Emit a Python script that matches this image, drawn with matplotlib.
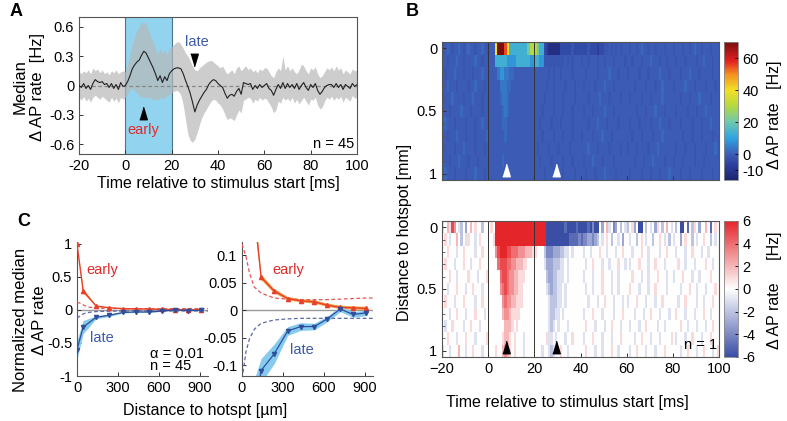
import numpy as np
import matplotlib
matplotlib.use("Agg")
import matplotlib.pyplot as plt
from matplotlib.colors import LinearSegmentedColormap, Normalize

plt.rcParams['font.family'] = ['Liberation Sans', 'DejaVu Sans']
plt.rcParams['axes.unicode_minus'] = False

# ---------------- Panel A data ----------------
time_ms = np.arange(-20, 101)
median_rate = [
    0.00, -0.02, 0.02, -0.03, 0.00, -0.04, 0.02, 0.06, 0.04, 0.03, 0.04, 0.01, 0.02, -0.02, 0.02, -0.03, 0.01, -0.04, 0.03, -0.01,
    0.00, 0.04, 0.10, 0.17, 0.21, 0.24, 0.26, 0.31, 0.35, 0.33, 0.28, 0.23, 0.18, 0.12, 0.05, 0.10, 0.03, 0.09, 0.05, 0.12, 0.15,
    0.17, 0.18, 0.18, 0.17, 0.12, 0.05, -0.01, -0.08, -0.17, -0.27, -0.20, -0.15, -0.11, -0.07, -0.04, 0.01, 0.04, 0.06, 0.05, 0.02,
    0.00, -0.02, -0.08, -0.13, -0.10, -0.09, -0.11, -0.06, -0.03, -0.09, 0.03, 0.02, 0.01, 0.02, -0.04, 0.00, -0.03, 0.01, -0.02, 0.00,
    0.02, -0.03, -0.05, -0.10, -0.04, 0.01, -0.03, 0.03, -0.03, 0.02, -0.02, 0.01, -0.03, 0.02, -0.04, 0.00, 0.03, -0.02, -0.05, 0.01,
    -0.02, 0.02, -0.05, -0.09, -0.06, -0.02, 0.00, 0.01, 0.01, -0.02, 0.02, -0.02, 0.01, -0.04, 0.01, -0.01, -0.03, 0.02, -0.01, 0.01,
]
band_hi = [
    0.14, 0.12, 0.15, 0.13, 0.16, 0.12, 0.18, 0.15, 0.17, 0.13, 0.16, 0.12, 0.14, 0.11, 0.15, 0.13, 0.16, 0.12, 0.14, 0.15,
    0.14, 0.22, 0.32, 0.42, 0.50, 0.56, 0.60, 0.64, 0.65, 0.62, 0.56, 0.50, 0.44, 0.38, 0.33, 0.38, 0.33, 0.36, 0.32, 0.38, 0.40,
    0.42, 0.44, 0.45, 0.42, 0.38, 0.33, 0.30, 0.25, 0.20, 0.16, 0.15, 0.18, 0.20, 0.22, 0.24, 0.25, 0.26, 0.24, 0.22, 0.20,
    0.18, 0.20, 0.15, 0.12, 0.14, 0.16, 0.12, 0.18, 0.20, 0.15, 0.18, 0.20, 0.16, 0.18, 0.14, 0.16, 0.13, 0.17, 0.15, 0.18,
    0.18, 0.14, 0.10, 0.08, 0.14, 0.18, 0.15, 0.30, 0.16, 0.20, 0.15, 0.18, 0.14, 0.12, 0.16, 0.22, 0.20, 0.15, 0.12, 0.18,
    0.16, 0.19, 0.12, 0.08, 0.10, 0.14, 0.18, 0.16, 0.19, 0.15, 0.20, 0.16, 0.18, 0.12, 0.16, 0.14, 0.12, 0.17, 0.15, 0.16,
]
band_lo = [
    -0.12, -0.15, -0.11, -0.16, -0.13, -0.17, -0.12, -0.10, -0.12, -0.14, -0.11, -0.13, -0.15, -0.17, -0.12, -0.16, -0.13, -0.18, -0.12, -0.14,
    -0.12, -0.08, -0.04, -0.03, -0.05, -0.08, -0.10, -0.12, -0.12, -0.13, -0.12, -0.13, -0.14, -0.14, -0.15, -0.12, -0.14, -0.12, -0.11, -0.09, -0.07,
    -0.06, -0.05, -0.06, -0.10, -0.20, -0.35, -0.50, -0.56, -0.58, -0.55, -0.48, -0.40, -0.33, -0.28, -0.24, -0.20, -0.16, -0.14, -0.15, -0.18,
    -0.20, -0.24, -0.30, -0.35, -0.33, -0.34, -0.36, -0.30, -0.25, -0.28, -0.15, -0.14, -0.12, -0.13, -0.18, -0.14, -0.16, -0.12, -0.15, -0.13,
    -0.14, -0.18, -0.22, -0.28, -0.25, -0.16, -0.18, -0.12, -0.15, -0.13, -0.16, -0.12, -0.18, -0.14, -0.19, -0.15, -0.12, -0.16, -0.20, -0.14,
    -0.15, -0.12, -0.20, -0.24, -0.22, -0.16, -0.12, -0.14, -0.11, -0.15, -0.12, -0.14, -0.11, -0.17, -0.12, -0.14, -0.16, -0.10, -0.13, -0.12,
]
stim_window = (0, 20)
early_arrow = (7.7, -0.28)
late_arrow = (29.5, 0.26)

# ---------------- Panel B data ----------------
# each row (distance 0.0 ... 1.0 mm) = six 20-ms segments of 1-ms bins, coded by characters
top_levels = {'.': 0, 'a': -1.5, 'b': -4, 'c': -7, 'd': -12, '1': 2, '2': 4, '3': 8,
              '4': 13, '5': 20, '6': 30, '7': 40, '8': 55, '9': 70}
top_rows = [
    ["a.1.a..1.a.1..a..1.a", "...79998744444444566", "6544bcdddddbbbbbabbb", "bbbabbbcbbaa.a.a.a..", ".a..a.1..a..a...a...", "a...a..a.1..a...a..."],
    ["..a...1..a....1..a..", "...44444333344444433", "4433aaaaaaaaa.a.a...", "a..a...a..a...a....a", "..a...a...1...a..a..", ".a...a....a..1...a.."],
    [".a...1...a...a...1..", "....2332211.........", "......a.a..a....a...", "..a....a....1...a...", "a....a...a....1...a.", "...a...1...a.....a.."],
    ["..1...a....a..1...a.", ".....22211..........", ".....a..a....a...a..", ".a....a...1...a.....", "...a....a...a..1....", "a....1...a....a...a."],
    ["a...1....a...1...a..", ".....1221...........", "....a...a...a....a..", "...a....1...a....a..", ".a....a...a....1....", "...a...a...1....a..."],
    ["...a....1...a....a..", "......121...........", "...a....a...a...a...", ".a...a....1...a.....", "....a...a...1...a...", ".a....a...a...1....."],
    [".1...a....a...a..1..", "......11............", "..a....a...a....a...", "...a...1...a....a...", ".a...a....a...1...a.", "...a....a...a...1..."],
    ["..a...1...a...a....1", ".......1............", "...a....a...a...a...", "a....a...1...a......", "..a...a....a...1....", "....a...a...a....a.."],
    ["a....a...1....a...a.", "....................", ".a....a...a....a....", "...1...a....a....a..", "a...a....a...1......", ".a...a...a....a...1."],
    ["...a...1...a...a....", "......1.............", "..a....a....a...a...", ".a...1...a....a.....", "...a...a...1....a...", "a...a....a...a......"],
    [".1...a....a...1...a.", "....................", "....a...a...a....a..", "..a...a...1....a....", ".a....a...a...a...1.", "...a...a....a....a.."],
]
bottom_levels = {'.': 0, '1': 1, '2': 2, '3': 3, '4': 4, '5': 5, '6': 6, '7': 8,
                 'a': -1, 'b': -2, 'c': -3, 'd': -4, 'e': -5, 'f': -6, 'g': -8}
bottom_rows = [
    ["1.2a53.ab.c.2.1..b..", ".1.77777777777777777", "77777ggggfgggeggfgeg", "gfgegdfg.c.2a.dc.b.a", "b.1c.gf.b.a.c1.b.2.a", ".b.fg.e.b1.c..2.e.1."],
    [".1.a..2.b.a1..a.1...", "..177777777777777777", "77777gggggfffffeeeed", "eddccdcb.a.1.b..a.c.", ".a..b.1.a..b..1.a.b.", "a..c.1..b.a..1..b.a."],
    ["..1...a..1....a..1..", "...35666554443332221", "1...bdddcccbbaa.a...", ".a..a...1..a...a..1.", "..a...1..a....a..1..", ".a...a..1...a..a...."],
    [".1...a...1..a...1...", "....4555443322211...", "....acccbbbaa.a.....", "..a..1...a..a...1..a", ".a...1...a..1...a...", "..1..a...a....1..a.."],
    ["...1..a....1...a...1", ".....45543322111....", ".....bccbbaaa.a.....", ".a...a...1...a..a...", "..1...a..a...1...a..", "a...1...a..a....1..."],
    ["..a...1...a..1...a..", ".....3454332211.....", ".....abcbbaa.a......", "..a..a...1...a..a...", ".1...a...a..1....a..", "...a...1..a...a...1."],
    [".1...a...1....a..1..", "......343322111.....", "......abbbaa.a......", "...a...a..1...a...a.", "a...1...a...a..1....", "..a..1....a..a...1.."],
    ["...a..1...a...1...a.", "......23321111......", "......abbaa.a.......", ".a...1...a....a...1.", "...a...a..1...a...a.", ".1...a...a...1..a..."],
    [".a..1....a..1...a...", ".......2221.1.......", "......aba.a...a.....", "..1...a...a..1...a..", ".a...a..1....a..a...", "...1..a...a...a..1.."],
    ["..1...a...1...a....1", "......1221.1...a....", ".....1aa.a...a..1...", ".a...1...a...a...1..", "...a..1...a...a....1", ".a...a..1...a...1..."],
    ["1..a...2..a..1...a..", "...1..2321.1...a....", "...a..aba..1..a.....", "..1...a..a...1..a...", ".a..1...a...a...1...", "...a..1...a..1...a.1"],
]
heat_time_edges = np.arange(-20, 101)
heat_dist_edges = np.linspace(-0.05, 1.05, 12)
top_range = (-16, 70)
bottom_range = (-6, 6)
top_cbar_ticks = [60, 40, 20, 0, -10]
bottom_cbar_ticks = [6, 4, 2, 0, -2, -4, -6]
b_xticks = [-20, 0, 20, 40, 60, 80, 100]
b_xticklabels = ['\u221220', '0', '20', '40', '60', '80', '100']

# ---------------- Panel C data ----------------
dist_um = [0, 45, 140, 235, 335, 430, 530, 625, 720, 815, 910]
early_norm = [1.0, 0.29, 0.06, 0.035, 0.021, 0.017, 0.015, 0.009, 0.005, 0.004, 0.003]
early_err = [0.0, 0.035, 0.005, 0.004, 0.003, 0.003, 0.003, 0.003, 0.003, 0.003, 0.003]
late_norm = [-0.60, -0.26, -0.11, -0.08, -0.038, -0.030, -0.030, -0.016, 0.002, -0.008, -0.005]
late_err = [0.14, 0.10, 0.022, 0.018, 0.008, 0.007, 0.006, 0.005, 0.005, 0.005, 0.005]
thr_dist = [0, 30, 55, 90, 140, 235, 335, 430, 530, 625, 720, 815, 910, 960]
thr_pos = [0.12, 0.097, 0.067, 0.042, 0.031, 0.022, 0.020, 0.019, 0.019, 0.019, 0.020, 0.021, 0.022, 0.022]
thr_neg = [-0.125, -0.075, -0.052, -0.035, -0.024, -0.018, -0.016, -0.015, -0.015, -0.015, -0.015, -0.015, -0.015, -0.015]

RED = '#e02a2a'
ORANGE = '#f4a046'
BLUE_LINE = '#2f4f9c'
BLUE_BAND = '#86cbee'
BLUE_TEXT = '#3d5aa8'
SPINE = '#555555'

W, H = 787, 421
fig = plt.figure(figsize=(W / 100, H / 100), dpi=100)


def rect(l, t, r, b):
    return [l / W, 1 - b / H, (r - l) / W, (b - t) / H]


def style(ax, fs=10.5):
    ax.tick_params(direction='in', labelsize=fs, length=3, width=0.7, colors='#333333', labelcolor='black')
    for s in ax.spines.values():
        s.set_color(SPINE)
        s.set_linewidth(0.8)


tri_up = [(-0.3, -0.5), (0.3, -0.5), (0.0, 0.5)]
tri_down = [(-0.3, 0.5), (0.3, 0.5), (0.0, -0.5)]
TRI_MS = 9

# ---------------- Panel A ----------------
axA = fig.add_axes(rect(79, 17, 357, 154))
axA.axvspan(stim_window[0], stim_window[1], color='#92d4f0', zorder=0, lw=0)
axA.axvline(stim_window[0], color='#4a7390', lw=0.8, zorder=0.5)
axA.axvline(stim_window[1], color='#4a7390', lw=0.8, zorder=0.5)
axA.fill_between(time_ms, band_lo, band_hi, color='#b8b8b8', alpha=0.7, lw=0, zorder=1)
axA.axhline(0, color='#888888', lw=0.9, ls=(0, (3, 2)), zorder=2)
axA.plot(time_ms, median_rate, color='#222222', lw=0.8, zorder=3)
axA.plot(*late_arrow, marker=tri_down, ms=TRI_MS, color='black', zorder=4)
axA.plot(*early_arrow, marker=tri_up, ms=TRI_MS, color='black', zorder=4)
axA.text(31, 0.44, 'late', color=BLUE_TEXT, fontsize=10.5, ha='center', va='center')
axA.text(7.7, -0.45, 'early', color=RED, fontsize=10.5, ha='center', va='center')
axA.text(99, -0.6, 'n = 45', fontsize=10.5, ha='right', va='center')
axA.set_xlim(-20, 100)
axA.set_ylim(-0.7, 0.7)
axA.set_xticks([-20, 0, 20, 40, 60, 80, 100])
axA.set_yticks([0.6, 0.3, 0, -0.3, -0.6])
axA.set_yticklabels(['0.6', '0.3', '0', '-0.3', '-0.6'])
style(axA)
axA.set_xlabel('Time relative to stimulus start [ms]', fontsize=11.5, labelpad=2)
fig.text(29 / W, 1 - 87 / H, 'Median\n\u0394 AP rate  [Hz]', rotation=90, ha='center', va='center',
         fontsize=12, multialignment='center', linespacing=1.25)
fig.text(10 / W, 1 - 11 / H, 'A', fontsize=13, fontweight='bold', va='center')


# ---------------- Panel B ----------------
def decode(rows, levels):
    out = []
    for segs in rows:
        vals = []
        for s in segs:
            s = (s + '.' * 20)[:20]
            vals.extend(levels.get(c, 0) for c in s)
        out.append(vals)
    return np.array(out, dtype=float)


top_Z = decode(top_rows, top_levels)
bottom_Z = decode(bottom_rows, bottom_levels)

top_anchor_vals = [-16, -8, 0, 10, 20, 30, 40, 50, 58, 70]
top_anchor_cols = ['#1c2470', '#2a3c98', '#3b5cb6', '#2ea4e0', '#6cc8b0', '#b4d840',
                   '#f2e024', '#f39020', '#e32222', '#7a0e0e']
top_cmap = LinearSegmentedColormap.from_list(
    'jetlike', [((v - top_range[0]) / (top_range[1] - top_range[0]), c)
                for v, c in zip(top_anchor_vals, top_anchor_cols)])
bottom_cmap = LinearSegmentedColormap.from_list('bwr_like', ['#3a4ea6', '#ffffff', '#e4262b'])

heat_specs = [
    (rect(442, 42, 719, 180), rect(724, 42, 738, 180), top_Z, top_cmap, top_range, top_cbar_ticks,
     'white', False, 115, '\u0394 AP rate   [Hz]'),
    (rect(442, 221, 719, 357), rect(724, 221, 738, 357), bottom_Z, bottom_cmap, bottom_range, bottom_cbar_ticks,
     'black', True, 290, '\u0394 AP rate     [Hz]'),
]
for axrect, cbrect, Z, cmap, vr, cticks, arrow_col, show_x, lab_y, cblab in heat_specs:
    ax = fig.add_axes(axrect)
    mesh = ax.pcolormesh(heat_time_edges, heat_dist_edges, Z, cmap=cmap,
                         norm=Normalize(vmin=vr[0], vmax=vr[1]), shading='flat', rasterized=True)
    ax.set_xlim(-20, 100)
    ax.set_ylim(1.05, -0.05)
    ax.axvline(stim_window[0], color='#333333', lw=0.7)
    ax.axvline(stim_window[1], color='#333333', lw=0.7)
    ax.plot(early_arrow[0], 0.97, marker=tri_up, ms=TRI_MS, color=arrow_col, lw=0)
    ax.plot(late_arrow[0], 0.97, marker=tri_up, ms=TRI_MS, color=arrow_col, lw=0)
    ax.set_yticks([0, 0.5, 1])
    ax.set_yticklabels(['0', '0.5', '1'])
    ax.set_yticks(np.linspace(0, 1, 11), minor=True)
    ax.set_xticks(b_xticks)
    if show_x:
        ax.set_xticklabels(b_xticklabels)
        ax.text(99, 0.95, 'n = 1', fontsize=10.5, ha='right', va='center')
    else:
        ax.set_xticklabels([])
    style(ax)
    ax.tick_params(which='minor', direction='in', length=2, width=0.6, colors='#555555')
    cax = fig.add_axes(cbrect)
    cb = fig.colorbar(mesh, cax=cax, ticks=cticks)
    cb.ax.set_yticklabels([str(v) for v in cticks])
    cb.ax.tick_params(direction='in', labelsize=10.5, length=2, width=0.6, pad=3)
    cb.outline.set_edgecolor('#888888')
    cb.outline.set_linewidth(0.6)
    fig.text(774 / W, 1 - lab_y / H, cblab, rotation=90, ha='center', va='center', fontsize=11.5)

fig.text(405 / W, 1 - 232 / H, 'Distance to hotspot [mm]', rotation=90, ha='center', va='center', fontsize=11.5)
fig.text(567 / W, 1 - 402 / H, 'Time relative to stimulus start [ms]', ha='center', va='center', fontsize=11.5)
fig.text(406 / W, 1 - 12 / H, 'B', fontsize=13, fontweight='bold', va='center')

# ---------------- Panel C ----------------
c_specs = [
    (rect(77, 242, 208, 376), (-1.0, 1.03), [1, 0.5, 0, -0.5, -1], ['1', '0.5', '0', '-0.5', '-1'],
     (183, 0.6), (183, -0.42)),
    (rect(242, 242, 373, 376), (-0.12, 0.124), [0.1, 0.05, 0, -0.05, -0.1], ['0.1', '0.05', '0', '-0.05', '-0.1'],
     (337, 0.073), (440, -0.073)),
]
for i, (axrect, ylim, yt, ytl, early_pos, late_pos) in enumerate(c_specs):
    ax = fig.add_axes(axrect)
    ax.axhline(0, color='#9a9a9a', lw=1.0, zorder=1)
    e = np.array(early_norm)
    ee = np.array(early_err)
    l = np.array(late_norm)
    le = np.array(late_err)
    ax.fill_between(dist_um, e - ee, e + ee, color=ORANGE, lw=0, zorder=2)
    ax.fill_between(dist_um, l - le, l + le, color=BLUE_BAND, lw=0, zorder=2)
    ax.plot(thr_dist, thr_pos, color='#e05858', lw=0.9, ls=(0, (3, 2)), zorder=3)
    ax.plot(thr_dist, thr_neg, color='#5a68a8', lw=0.9, ls=(0, (3, 2)), zorder=3)
    ax.plot(dist_um, early_norm, color='#e8402a', lw=1.0, marker='^', ms=3, zorder=4)
    ax.plot(dist_um, late_norm, color=BLUE_LINE, lw=0.9, marker='v', ms=3, zorder=4)
    ax.text(*early_pos, 'early', color=RED, fontsize=10.5, ha='center', va='center')
    ax.text(*late_pos, 'late', color=BLUE_TEXT, fontsize=10.5, ha='center', va='center')
    ax.set_xlim(0, 960)
    ax.set_ylim(*ylim)
    ax.set_xticks([0, 300, 600, 900])
    ax.set_yticks(yt)
    ax.set_yticklabels(ytl)
    ax.spines['top'].set_visible(False)
    ax.spines['right'].set_visible(False)
    style(ax)
    if i == 0:
        ax.text(535, -0.66, '\u03b1 = 0.01', fontsize=10.5, ha='left', va='center')
        ax.text(535, -0.85, 'n = 45', fontsize=10.5, ha='left', va='center')

fig.text(30 / W, 1 - 320 / H, 'Normalized median\n\u0394 AP rate', rotation=90, ha='center', va='center',
         fontsize=12, multialignment='center', linespacing=1.25)
fig.text(205 / W, 1 - 410 / H, 'Distance to hotspt [\u00b5m]', ha='center', va='center', fontsize=11.5)
fig.text(17 / W, 1 - 222 / H, 'C', fontsize=13, fontweight='bold', va='center')

fig.savefig('out.png', dpi=100)
